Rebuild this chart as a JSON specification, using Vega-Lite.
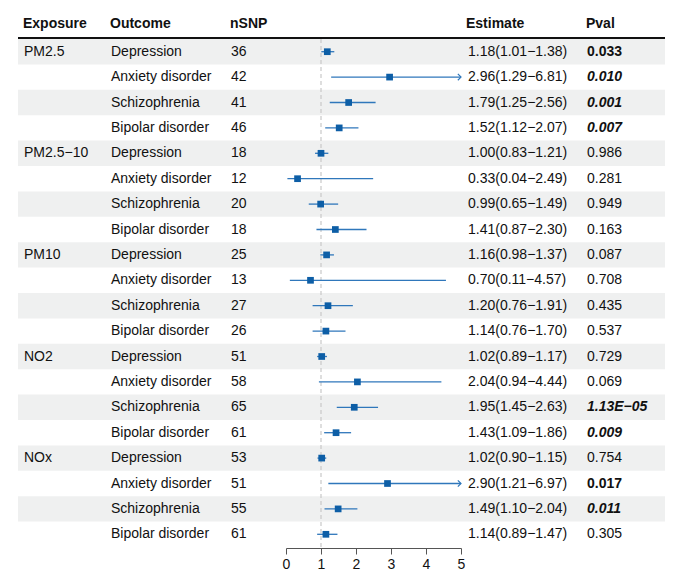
{
  "$schema": "https://vega.github.io/schema/vega-lite/v6.json",
  "padding": {"left": 17, "top": 17, "right": 0, "bottom": 0},
  "bounds": "flush",
  "spacing": 0,
  "config": {
    "view": {"stroke": null},
    "font": "Liberation Sans",
    "text": {"font": "Liberation Sans", "fontSize": 14, "color": "#111111"},
    "title": {"anchor": "start", "dx": 6, "fontSize": 14, "fontWeight": "bold", "font": "Liberation Sans", "color": "#111111", "baseline": "bottom", "offset": 6},
    "axisX": {"grid": false, "title": null, "domainColor": "#555555", "tickColor": "#555555", "tickSize": 6, "labelFontSize": 14, "labelColor": "#111111", "labelFont": "Liberation Sans", "labelPadding": 3, "labelFlush": false, "labelOverlap": false}
  },
  "datasets": {
    "rows": [
      {"id": 1, "exposure": "PM2.5", "outcome": "Depression", "nsnp": 36, "est": 1.18, "lower": 1.01, "upper": 1.38, "estimate": "1.18(1.01−1.38)", "pval": "0.033", "signif": "nominal"},
      {"id": 2, "exposure": "PM2.5", "outcome": "Anxiety disorder", "nsnp": 42, "est": 2.96, "lower": 1.29, "upper": 6.81, "estimate": "2.96(1.29−6.81)", "pval": "0.010", "signif": "fdr"},
      {"id": 3, "exposure": "PM2.5", "outcome": "Schizophrenia", "nsnp": 41, "est": 1.79, "lower": 1.25, "upper": 2.56, "estimate": "1.79(1.25−2.56)", "pval": "0.001", "signif": "fdr"},
      {"id": 4, "exposure": "PM2.5", "outcome": "Bipolar disorder", "nsnp": 46, "est": 1.52, "lower": 1.12, "upper": 2.07, "estimate": "1.52(1.12−2.07)", "pval": "0.007", "signif": "fdr"},
      {"id": 5, "exposure": "PM2.5−10", "outcome": "Depression", "nsnp": 18, "est": 1.00, "lower": 0.83, "upper": 1.21, "estimate": "1.00(0.83−1.21)", "pval": "0.986", "signif": "none"},
      {"id": 6, "exposure": "PM2.5−10", "outcome": "Anxiety disorder", "nsnp": 12, "est": 0.33, "lower": 0.04, "upper": 2.49, "estimate": "0.33(0.04−2.49)", "pval": "0.281", "signif": "none"},
      {"id": 7, "exposure": "PM2.5−10", "outcome": "Schizophrenia", "nsnp": 20, "est": 0.99, "lower": 0.65, "upper": 1.49, "estimate": "0.99(0.65−1.49)", "pval": "0.949", "signif": "none"},
      {"id": 8, "exposure": "PM2.5−10", "outcome": "Bipolar disorder", "nsnp": 18, "est": 1.41, "lower": 0.87, "upper": 2.30, "estimate": "1.41(0.87−2.30)", "pval": "0.163", "signif": "none"},
      {"id": 9, "exposure": "PM10", "outcome": "Depression", "nsnp": 25, "est": 1.16, "lower": 0.98, "upper": 1.37, "estimate": "1.16(0.98−1.37)", "pval": "0.087", "signif": "none"},
      {"id": 10, "exposure": "PM10", "outcome": "Anxiety disorder", "nsnp": 13, "est": 0.70, "lower": 0.11, "upper": 4.57, "estimate": "0.70(0.11−4.57)", "pval": "0.708", "signif": "none"},
      {"id": 11, "exposure": "PM10", "outcome": "Schizophrenia", "nsnp": 27, "est": 1.20, "lower": 0.76, "upper": 1.91, "estimate": "1.20(0.76−1.91)", "pval": "0.435", "signif": "none"},
      {"id": 12, "exposure": "PM10", "outcome": "Bipolar disorder", "nsnp": 26, "est": 1.14, "lower": 0.76, "upper": 1.70, "estimate": "1.14(0.76−1.70)", "pval": "0.537", "signif": "none"},
      {"id": 13, "exposure": "NO2", "outcome": "Depression", "nsnp": 51, "est": 1.02, "lower": 0.89, "upper": 1.17, "estimate": "1.02(0.89−1.17)", "pval": "0.729", "signif": "none"},
      {"id": 14, "exposure": "NO2", "outcome": "Anxiety disorder", "nsnp": 58, "est": 2.04, "lower": 0.94, "upper": 4.44, "estimate": "2.04(0.94−4.44)", "pval": "0.069", "signif": "none"},
      {"id": 15, "exposure": "NO2", "outcome": "Schizophrenia", "nsnp": 65, "est": 1.95, "lower": 1.45, "upper": 2.63, "estimate": "1.95(1.45−2.63)", "pval": "1.13E−05", "signif": "fdr"},
      {"id": 16, "exposure": "NO2", "outcome": "Bipolar disorder", "nsnp": 61, "est": 1.43, "lower": 1.09, "upper": 1.86, "estimate": "1.43(1.09−1.86)", "pval": "0.009", "signif": "fdr"},
      {"id": 17, "exposure": "NOx", "outcome": "Depression", "nsnp": 53, "est": 1.02, "lower": 0.90, "upper": 1.15, "estimate": "1.02(0.90−1.15)", "pval": "0.754", "signif": "none"},
      {"id": 18, "exposure": "NOx", "outcome": "Anxiety disorder", "nsnp": 51, "est": 2.90, "lower": 1.21, "upper": 6.97, "estimate": "2.90(1.21−6.97)", "pval": "0.017", "signif": "nominal"},
      {"id": 19, "exposure": "NOx", "outcome": "Schizophrenia", "nsnp": 55, "est": 1.49, "lower": 1.10, "upper": 2.04, "estimate": "1.49(1.10−2.04)", "pval": "0.011", "signif": "fdr"},
      {"id": 20, "exposure": "NOx", "outcome": "Bipolar disorder", "nsnp": 61, "est": 1.14, "lower": 0.89, "upper": 1.47, "estimate": "1.14(0.89−1.47)", "pval": "0.305", "signif": "none"}
    ]
  },
  "data": {"name": "rows"},
  "hconcat": [
    {
      "width": 87, "height": 508,
      "title": {"text": "Exposure"},
      "layer": [
        {"transform": [{"filter": "datum.outcome === 'Depression' || datum.outcome === 'Schizophrenia'"}],
         "mark": {"type": "rect", "color": "#eff0f0"},
         "encoding": {"y": {"field": "id", "type": "ordinal", "axis": null, "scale": {"paddingInner": 0, "paddingOuter": 0}}}},
        {"data": {"values": [{}]}, "mark": {"type": "rule", "color": "#111111", "strokeWidth": 2}, "encoding": {"y": {"value": -1}}},
        {"mark": {"type": "text", "align": "left", "baseline": "middle"},
         "encoding": {"y": {"field": "id", "type": "ordinal"}, "x": {"value": 6},
                      "text": {"condition": {"test": "datum.outcome === 'Depression'", "field": "exposure"}, "value": ""}}}
      ]
    },
    {
      "width": 120, "height": 508,
      "title": {"text": "Outcome"},
      "layer": [
        {"transform": [{"filter": "datum.outcome === 'Depression' || datum.outcome === 'Schizophrenia'"}],
         "mark": {"type": "rect", "color": "#eff0f0"},
         "encoding": {"y": {"field": "id", "type": "ordinal", "axis": null, "scale": {"paddingInner": 0, "paddingOuter": 0}}}},
        {"data": {"values": [{}]}, "mark": {"type": "rule", "color": "#111111", "strokeWidth": 2}, "encoding": {"y": {"value": -1}}},
        {"mark": {"type": "text", "align": "left", "baseline": "middle"},
         "encoding": {"y": {"field": "id", "type": "ordinal"}, "x": {"value": 6}, "text": {"field": "outcome"}}}
      ]
    },
    {
      "width": 61, "height": 508,
      "title": {"text": "nSNP"},
      "layer": [
        {"transform": [{"filter": "datum.outcome === 'Depression' || datum.outcome === 'Schizophrenia'"}],
         "mark": {"type": "rect", "color": "#eff0f0"},
         "encoding": {"y": {"field": "id", "type": "ordinal", "axis": null, "scale": {"paddingInner": 0, "paddingOuter": 0}}}},
        {"data": {"values": [{}]}, "mark": {"type": "rule", "color": "#111111", "strokeWidth": 2}, "encoding": {"y": {"value": -1}}},
        {"mark": {"type": "text", "align": "left", "baseline": "middle"},
         "encoding": {"y": {"field": "id", "type": "ordinal"}, "x": {"value": 6}, "text": {"field": "nsnp"}}}
      ]
    },
    {
      "width": 175, "height": 508,
      "title": {"text": " "},
      "layer": [
        {"transform": [{"filter": "datum.outcome === 'Depression' || datum.outcome === 'Schizophrenia'"}],
         "mark": {"type": "rect", "color": "#eff0f0"},
         "encoding": {"y": {"field": "id", "type": "ordinal", "axis": null, "scale": {"paddingInner": 0, "paddingOuter": 0}}}},
        {"data": {"values": [{}]}, "mark": {"type": "rule", "color": "#111111", "strokeWidth": 2}, "encoding": {"y": {"value": -1}}},
        {"data": {"values": [{"null_effect": 1}]}, "mark": {"type": "rule", "color": "#c8c8c8", "strokeWidth": 1.2, "strokeDash": [4, 3]},
         "encoding": {"x": {"field": "null_effect", "type": "quantitative",
                 "scale": {"domain": [0, 5], "clamp": true, "nice": false, "zero": true},
                 "axis": {"values": [0, 1, 2, 3, 4, 5], "tickCount": 6, "offset": 1}}}},
        {"mark": {"type": "rule", "color": "#2f77bb", "strokeWidth": 1.3},
         "encoding": {
           "y": {"field": "id", "type": "ordinal"},
           "x": {"field": "lower", "type": "quantitative"},
           "x2": {"field": "upper"}}},
        {"transform": [{"filter": "datum.upper > 5"}],
         "mark": {"type": "point", "shape": "M-1,-1L0,0L-1,1", "filled": false, "stroke": "#2f77bb", "strokeWidth": 1.2, "size": 40, "opacity": 1},
         "encoding": {"y": {"field": "id", "type": "ordinal"}, "x": {"field": "upper", "type": "quantitative"}}},
        {"mark": {"type": "point", "shape": "square", "filled": true, "color": "#0d5ea6", "size": 45, "opacity": 1},
         "encoding": {"y": {"field": "id", "type": "ordinal"}, "x": {"field": "est", "type": "quantitative"}}}
      ]
    },
    {
      "width": 120, "height": 508,
      "title": {"text": "Estimate"},
      "layer": [
        {"transform": [{"filter": "datum.outcome === 'Depression' || datum.outcome === 'Schizophrenia'"}],
         "mark": {"type": "rect", "color": "#eff0f0"},
         "encoding": {"y": {"field": "id", "type": "ordinal", "axis": null, "scale": {"paddingInner": 0, "paddingOuter": 0}}}},
        {"data": {"values": [{}]}, "mark": {"type": "rule", "color": "#111111", "strokeWidth": 2}, "encoding": {"y": {"value": -1}}},
        {"mark": {"type": "text", "align": "left", "baseline": "middle"},
         "encoding": {"y": {"field": "id", "type": "ordinal"}, "x": {"value": 7}, "text": {"field": "estimate"}}}
      ]
    },
    {
      "width": 84, "height": 508,
      "title": {"text": "Pval"},
      "layer": [
        {"transform": [{"filter": "datum.outcome === 'Depression' || datum.outcome === 'Schizophrenia'"}],
         "mark": {"type": "rect", "color": "#eff0f0"},
         "encoding": {"y": {"field": "id", "type": "ordinal", "axis": null, "scale": {"paddingInner": 0, "paddingOuter": 0}}}},
        {"data": {"values": [{}]}, "mark": {"type": "rule", "color": "#111111", "strokeWidth": 2}, "encoding": {"y": {"value": -1}}},
        {"transform": [{"filter": "datum.signif === 'none'"}],
         "mark": {"type": "text", "align": "left", "baseline": "middle"},
         "encoding": {"y": {"field": "id", "type": "ordinal"}, "x": {"value": 6}, "text": {"field": "pval"}}},
        {"transform": [{"filter": "datum.signif === 'nominal'"}],
         "mark": {"type": "text", "align": "left", "baseline": "middle", "fontWeight": "bold"},
         "encoding": {"y": {"field": "id", "type": "ordinal"}, "x": {"value": 6}, "text": {"field": "pval"}}},
        {"transform": [{"filter": "datum.signif === 'fdr'"}],
         "mark": {"type": "text", "align": "left", "baseline": "middle", "fontWeight": "bold", "fontStyle": "italic"},
         "encoding": {"y": {"field": "id", "type": "ordinal"}, "x": {"value": 6}, "text": {"field": "pval"}}}
      ]
    }
  ]
}
